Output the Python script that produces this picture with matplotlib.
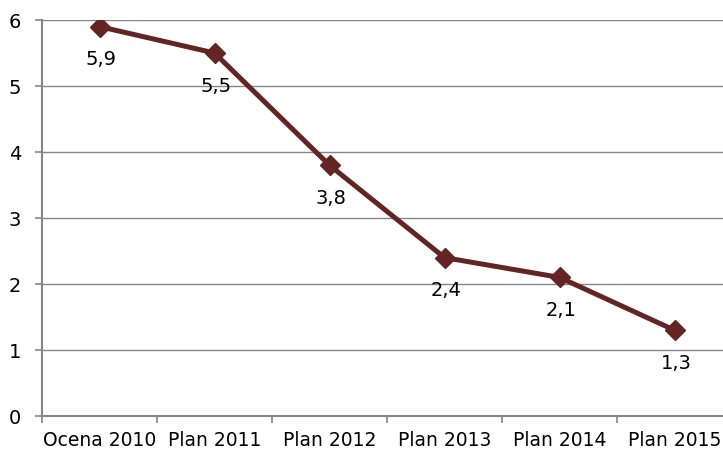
import matplotlib
matplotlib.use("Agg")
import matplotlib.pyplot as plt

categories = ["Ocena 2010", "Plan 2011", "Plan 2012", "Plan 2013", "Plan 2014", "Plan 2015"]
values = [5.9, 5.5, 3.8, 2.4, 2.1, 1.3]

line_color = "#632523"
grid_color = "#868686"

fig = plt.figure(figsize=(7.23, 4.59), dpi=100)
ax = fig.add_axes([42 / 723, 43 / 459, 690 / 723, 396 / 459])

x = list(range(len(categories)))
ax.plot(x, values, color=line_color, linewidth=3.6, marker="D", markersize=10.5,
        markerfacecolor=line_color, markeredgecolor=line_color, zorder=3)

# value labels under each point, decimal comma
for xi, v in zip(x, values):
    ax.annotate(f"{v:.1f}".replace(".", ","), (xi, v), xytext=(1, -24),
                textcoords="offset points", ha="center", va="center",
                fontsize=14, color="black")

ax.set_xlim(-0.5, len(categories) - 0.5)
ax.set_ylim(0, 6)
ax.set_yticks(range(0, 7))
ax.set_xticks(x)
ax.set_xticklabels(categories)
ax.set_xticks([i - 0.5 for i in range(len(categories) + 1)], minor=True)
ax.tick_params(axis="x", which="major", length=0, pad=11, labelsize=13.5)
ax.tick_params(axis="x", which="minor", length=5, color=grid_color, width=1.2)
ax.tick_params(axis="y", length=5, color=grid_color, width=1.2, pad=10, labelsize=14)

ax.grid(axis="y", color=grid_color, linewidth=1)
ax.set_axisbelow(True)
for side in ["top", "right"]:
    ax.spines[side].set_visible(False)
for side in ["left", "bottom"]:
    ax.spines[side].set_color(grid_color)
    ax.spines[side].set_linewidth(1.5)

fig.savefig("out.png", dpi=100)
